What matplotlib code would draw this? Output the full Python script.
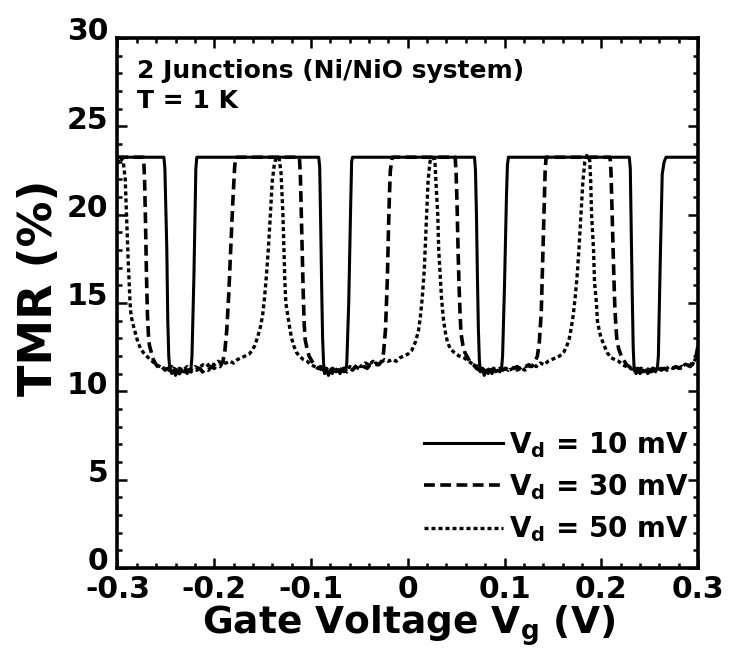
import matplotlib
matplotlib.use("Agg")
import matplotlib.pyplot as plt
import matplotlib.transforms as mtransforms
from matplotlib.ticker import MultipleLocator

plt.rcParams['font.family'] = 'DejaVu Sans'
plt.rcParams['font.weight'] = 'bold'
plt.rcParams['mathtext.fontset'] = 'dejavusans'

# TMR vs gate voltage
vg_10 = [-0.300, -0.252, -0.251, -0.249, -0.248, -0.247, -0.246, -0.244, -0.242, -0.240, -0.238, -0.236,
         -0.234, -0.232, -0.230, -0.228, -0.226, -0.224, -0.223, -0.221, -0.219, -0.218,
         -0.092, -0.091, -0.090, -0.089, -0.088, -0.087, -0.086, -0.084, -0.082, -0.080, -0.078, -0.076,
         -0.074, -0.072, -0.070, -0.068, -0.066, -0.064, -0.063, -0.061, -0.059, -0.058, -0.057,
         0.069, 0.070, 0.071, 0.072, 0.073, 0.074, 0.075, 0.077, 0.079, 0.081, 0.083, 0.085,
         0.087, 0.089, 0.091, 0.093, 0.095, 0.097, 0.098, 0.100, 0.102, 0.103, 0.104,
         0.229, 0.230, 0.231, 0.232, 0.233, 0.234, 0.236, 0.238, 0.240, 0.242, 0.244, 0.246,
         0.248, 0.250, 0.252, 0.254, 0.256, 0.258, 0.259, 0.261, 0.263, 0.265, 0.267, 0.300]
tmr_10 = [23.25, 23.25, 22.6, 18.0, 14.0, 12.0, 11.3, 11.0, 11.2, 10.9, 11.2, 11.0,
          11.2, 11.1, 11.2, 11.0, 11.2, 11.3, 12.0, 16.5, 22.6, 23.25,
          23.25, 22.7, 19.5, 16.0, 13.0, 11.6, 11.0, 11.2, 10.9, 11.2, 11.0, 11.2,
          11.1, 11.2, 11.0, 11.2, 11.1, 11.2, 11.6, 15.0, 20.5, 23.0, 23.25,
          23.25, 22.5, 20.0, 16.5, 13.5, 11.8, 11.1, 11.3, 10.9, 11.2, 11.0, 11.2,
          11.0, 11.2, 11.1, 11.2, 11.1, 11.3, 12.0, 16.0, 21.0, 22.8, 23.25,
          23.25, 22.6, 19.0, 15.5, 12.5, 11.2, 11.0, 11.3, 11.0, 11.2, 11.1, 11.2,
          11.0, 11.2, 11.1, 11.2, 11.1, 11.3, 12.0, 17.5, 22.3, 23.0, 23.25, 23.25]

vg_30 = [-0.300, -0.273, -0.272, -0.271, -0.270, -0.269, -0.268, -0.267, -0.265, -0.263, -0.260, -0.257,
         -0.254, -0.251, -0.248, -0.245, -0.242, -0.239, -0.236, -0.233, -0.230, -0.227, -0.224, -0.221,
         -0.218, -0.215, -0.212, -0.209, -0.206, -0.203, -0.200, -0.197, -0.194, -0.191, -0.189, -0.187,
         -0.185, -0.183, -0.181, -0.179, -0.178,
         -0.112, -0.111, -0.110, -0.109, -0.108, -0.107, -0.106, -0.104, -0.102, -0.099, -0.096, -0.093,
         -0.090, -0.087, -0.084, -0.081, -0.078, -0.075, -0.072, -0.069, -0.066, -0.063, -0.060, -0.057,
         -0.054, -0.051, -0.048, -0.045, -0.042, -0.039, -0.036, -0.033, -0.030, -0.027, -0.025, -0.023,
         -0.021, -0.020, -0.019, -0.018, -0.016,
         0.049, 0.050, 0.051, 0.052, 0.053, 0.054, 0.055, 0.057, 0.059, 0.062, 0.065, 0.068,
         0.071, 0.074, 0.077, 0.080, 0.083, 0.086, 0.089, 0.092, 0.095, 0.098, 0.101, 0.104,
         0.107, 0.110, 0.113, 0.116, 0.119, 0.122, 0.125, 0.128, 0.131, 0.134, 0.136, 0.138,
         0.139, 0.140, 0.141, 0.142, 0.143,
         0.209, 0.210, 0.211, 0.212, 0.213, 0.214, 0.215, 0.216, 0.218, 0.220, 0.223, 0.226,
         0.229, 0.232, 0.235, 0.238, 0.241, 0.244, 0.247, 0.250, 0.253, 0.256, 0.259, 0.262,
         0.265, 0.268, 0.271, 0.274, 0.277, 0.280, 0.283, 0.286, 0.289, 0.292, 0.295, 0.298, 0.300]
tmr_30 = [23.25, 23.25, 22.0, 19.5, 16.5, 14.3, 13.2, 12.6, 12.2, 11.8, 11.5, 11.3,
          11.4, 11.2, 11.3, 11.1, 11.3, 11.2, 11.0, 11.3, 11.1, 11.2, 11.1, 11.3,
          11.2, 11.3, 11.1, 11.3, 11.2, 11.4, 11.3, 11.5, 11.4, 11.7, 12.3, 13.5,
          15.5, 18.0, 20.5, 22.6, 23.25,
          23.25, 22.3, 20.0, 17.5, 15.5, 13.8, 12.9, 12.4, 12.0, 11.7, 11.5, 11.3,
          11.4, 11.2, 11.3, 11.1, 11.3, 11.2, 11.4, 11.2, 11.3, 11.1, 11.3, 11.2,
          11.4, 11.3, 11.2, 11.4, 11.3, 11.5, 11.4, 11.6, 11.5, 11.7, 12.2, 13.5,
          16.5, 19.0, 21.0, 22.5, 23.25,
          23.25, 22.3, 20.5, 18.0, 16.0, 14.5, 13.3, 12.6, 12.2, 11.9, 11.6, 11.5,
          11.3, 11.2, 11.3, 11.1, 11.2, 11.2, 11.3, 11.2, 11.3, 11.2, 11.3, 11.2,
          11.4, 11.3, 11.4, 11.3, 11.5, 11.4, 11.5, 11.4, 11.6, 12.0, 12.8, 14.5,
          16.5, 18.5, 20.5, 22.5, 23.25,
          23.25, 22.5, 20.5, 18.5, 16.5, 14.8, 13.8, 13.0, 12.4, 12.1, 11.8, 11.5,
          11.4, 11.2, 11.3, 11.1, 11.3, 11.2, 11.3, 11.1, 11.3, 11.2, 11.3, 11.2,
          11.3, 11.2, 11.3, 11.3, 11.4, 11.3, 11.4, 11.3, 11.5, 11.4, 11.6, 12.0, 12.6]

vg_50 = [-0.300, -0.297, -0.294, -0.292, -0.291, -0.290, -0.289, -0.288, -0.287, -0.286, -0.284, -0.282,
         -0.279, -0.276, -0.272, -0.268, -0.264, -0.260, -0.256, -0.252, -0.248, -0.244, -0.240, -0.236,
         -0.232, -0.228, -0.224, -0.220, -0.216, -0.212, -0.208, -0.204, -0.200, -0.196, -0.192, -0.188,
         -0.184, -0.180, -0.176, -0.172, -0.168, -0.164, -0.161, -0.158, -0.155, -0.152, -0.150, -0.148,
         -0.146, -0.144, -0.142, -0.141, -0.140, -0.138, -0.136, -0.133, -0.131, -0.130, -0.129, -0.128,
         -0.127, -0.126, -0.124, -0.122, -0.120, -0.118, -0.115, -0.112, -0.108, -0.104, -0.100, -0.096,
         -0.092, -0.088, -0.084, -0.080, -0.076, -0.072, -0.068, -0.064, -0.060, -0.056, -0.052, -0.048,
         -0.044, -0.040, -0.036, -0.032, -0.028, -0.024, -0.020, -0.016, -0.012, -0.008, -0.004, 0.000,
         0.004, 0.008, 0.011, 0.013, 0.015, 0.017, 0.018, 0.019, 0.021, 0.023, 0.025, 0.028,
         0.029, 0.031, 0.032, 0.034, 0.035, 0.037, 0.039, 0.041, 0.044, 0.048, 0.053, 0.058,
         0.063, 0.068, 0.073, 0.077, 0.081, 0.085, 0.089, 0.093, 0.097, 0.101, 0.105, 0.109,
         0.113, 0.117, 0.121, 0.125, 0.129, 0.133, 0.137, 0.141, 0.145, 0.149, 0.153, 0.157,
         0.161, 0.164, 0.167, 0.169, 0.171, 0.173, 0.175, 0.177, 0.179, 0.181, 0.183, 0.185,
         0.188, 0.189, 0.190, 0.192, 0.193, 0.195, 0.196, 0.198, 0.200, 0.203, 0.206, 0.210,
         0.214, 0.218, 0.222, 0.226, 0.230, 0.234, 0.238, 0.242, 0.246, 0.250, 0.254, 0.258,
         0.262, 0.266, 0.270, 0.274, 0.278, 0.282, 0.286, 0.290, 0.294, 0.297, 0.300]
tmr_50 = [22.9, 23.25, 23.0, 22.0, 20.5, 19.0, 17.5, 16.2, 15.0, 14.3, 13.8, 13.4,
          12.8, 12.4, 12.1, 11.9, 11.7, 11.5, 11.4, 11.3, 11.2, 11.4, 11.1, 11.3,
          11.2, 11.4, 11.2, 11.4, 11.3, 11.5, 11.4, 11.6, 11.5, 11.7, 11.6, 11.6,
          11.7, 11.6, 11.8, 11.9, 12.0, 12.1, 12.3, 12.6, 13.1, 13.7, 14.3, 15.3,
          16.6, 18.1, 20.0, 21.0, 21.9, 22.8, 23.25, 23.2, 22.4, 21.2, 20.0, 18.0,
          16.2, 15.0, 14.3, 13.6, 13.0, 12.6, 12.2, 12.0, 11.8, 11.7, 11.5, 11.4,
          11.3, 11.2, 11.3, 11.1, 11.3, 11.2, 11.3, 11.2, 11.4, 11.3, 11.5, 11.4,
          11.6, 11.5, 11.7, 11.5, 11.6, 11.8, 11.7, 11.8, 11.7, 11.9, 12.0, 12.1,
          12.3, 12.8, 13.4, 14.2, 15.3, 16.8, 18.1, 19.5, 21.9, 23.0, 23.25, 23.1,
          22.0, 20.0, 18.0, 16.2, 15.2, 14.0, 13.3, 12.8, 12.4, 12.2, 12.0, 11.9,
          11.7, 11.5, 11.4, 11.3, 11.1, 11.3, 11.2, 11.3, 11.1, 11.3, 11.2, 11.3,
          11.2, 11.3, 11.2, 11.4, 11.5, 11.4, 11.6, 11.5, 11.7, 11.8, 11.9, 12.0,
          12.2, 12.5, 13.0, 13.6, 14.3, 15.3, 16.5, 18.1, 20.0, 21.9, 23.0, 23.35,
          23.1, 22.0, 20.0, 18.0, 16.2, 15.0, 14.0, 13.4, 13.0, 12.6, 12.2, 11.9,
          11.8, 11.7, 11.5, 11.4, 11.3, 11.2, 11.3, 11.1, 11.3, 11.2, 11.3, 11.2,
          11.3, 11.2, 11.4, 11.3, 11.4, 11.3, 11.5, 11.6, 11.5, 11.8, 11.9]

labels = [r'V$_\mathbf{d}$ = 10 mV', r'V$_\mathbf{d}$ = 30 mV', r'V$_\mathbf{d}$ = 50 mV']

fig = plt.figure(figsize=(7.31, 6.57), dpi=100)
ax = fig.add_axes([0.1607, 0.1355, 0.7942, 0.8067])

ax.plot(vg_10, tmr_10, color='black', lw=2.2, ls='-', label=labels[0])
ax.plot(vg_30, tmr_30, color='black', lw=2.6, ls=(0, (3, 1.5)), label=labels[1])
ax.plot(vg_50, tmr_50, color='black', lw=2.4, ls=(0, (1.2, 0.9)), label=labels[2])

ax.set_xlim(-0.3, 0.3)
ax.set_ylim(0, 30)
ax.set_xticks([-0.3, -0.2, -0.1, 0, 0.1, 0.2, 0.3])
ax.set_xticklabels(['-0.3', '-0.2', '-0.1', '0', '0.1', '0.2', '0.3'])
ax.xaxis.set_minor_locator(MultipleLocator(0.02))
ax.yaxis.set_major_locator(MultipleLocator(5))
ax.yaxis.set_minor_locator(MultipleLocator(1))

for s in ax.spines.values():
    s.set_linewidth(2.6)
ax.tick_params(which='both', direction='in', top=True, right=True, width=1.8)
ax.tick_params(which='major', length=7.5, labelsize=21.5)
ax.tick_params(axis='x', which='major', pad=5)
ax.tick_params(axis='y', which='major', pad=6.5)
ax.tick_params(which='minor', length=3.8)

# y tick labels sit a bit above their ticks in the original
shift = mtransforms.ScaledTranslation(0, 9 / 100, fig.dpi_scale_trans)
for lab in ax.get_yticklabels():
    lab.set_transform(lab.get_transform() + shift)

fig.text(0.054, 0.562, 'TMR (%)', rotation=90, ha='center', va='center',
         fontsize=33, fontweight='bold')
fig.text(0.5595, 0.036, r'Gate Voltage V$_\mathbf{g}$ (V)', ha='center', va='baseline',
         fontsize=27, fontweight='bold')

ax.text(0.0336, 0.9245, '2 Junctions (Ni/NiO system)', transform=ax.transAxes,
        fontsize=18, fontweight='bold', va='baseline', ha='left')
ax.text(0.0336, 0.868, 'T = 1 K', transform=ax.transAxes,
        fontsize=18, fontweight='bold', va='baseline', ha='left')

ax.legend(loc='lower right', bbox_to_anchor=(0.983, 0.045), frameon=False,
          fontsize=20, handlelength=2.85, handletextpad=0.2, labelspacing=0.45,
          borderpad=0, borderaxespad=0)

fig.savefig('out.png', dpi=100)
